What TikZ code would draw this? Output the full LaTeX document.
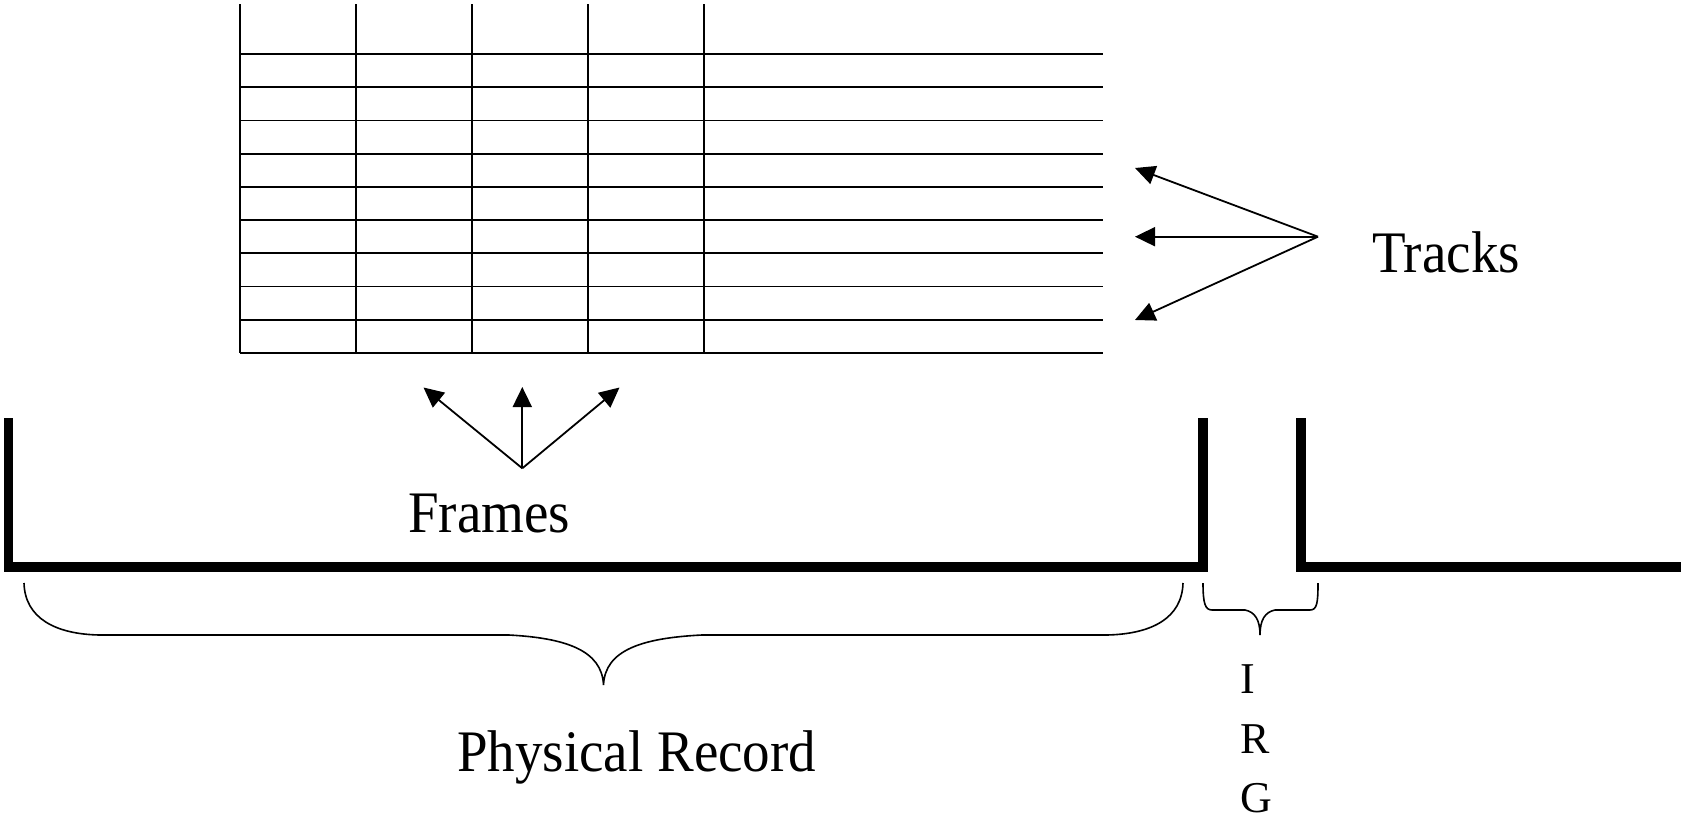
\documentclass[tikz,border=0pt]{standalone}
\usepackage{fontspec}
\setmainfont{Liberation Serif}
\usetikzlibrary{arrows.meta}
\newcommand{\talltext}[1]{\scalebox{1}[1.07]{#1}}
\begin{document}
\begin{tikzpicture}[x=1pt,y=-1pt,
  gridline/.style={line width=1.8pt},
  arr/.style={line width=1.8pt, -{Triangle[length=20pt,width=19pt]}},
  tape/.style={line width=9.5pt},
  brace/.style={line width=1.6pt},
  lbl/.style={inner sep=0pt, anchor=base west, font=\fontsize{55}{60}\selectfont},
  small/.style={inner sep=0pt, anchor=base west, font=\fontsize{44}{50}\selectfont}]
\useasboundingbox (0,0) rectangle (1681,819);
% grid of frames and tracks
\foreach \x in {240,355.7,471.7,588,704} \draw[gridline] (\x,4) -- (\x,353);
\foreach \i in {0,...,9} \draw[gridline] (240,54+33.22*\i) -- (1103,54+33.22*\i);
% Tracks arrows
\coordinate (ta) at (1318,236.7);
\coordinate (t1) at (1135,168);
\coordinate (t2) at (1135,236.7);
\coordinate (t3) at (1135,320);
\draw[arr] (ta) -- (t1);
\draw[arr] (ta) -- (t2);
\draw[arr] (ta) -- (t3);
\node[lbl] (tracks) at (1372,272) {\talltext{Tracks}};
% Frames arrows
\coordinate (fa) at (522.3,468.3);
\coordinate (f1) at (423.5,387.5);
\coordinate (f2) at (522.3,387);
\coordinate (f3) at (619.5,387.5);
\draw[arr] (fa) -- (f1);
\draw[arr] (fa) -- (f2);
\draw[arr] (fa) -- (f3);
\node[lbl] (frames) at (408,532) {\talltext{Frames}};
% tape
\draw[tape] (8.5,418) -- (8.5,567) -- (1203,567) -- (1203,418);
\draw[tape] (1301,418) -- (1301,567) -- (1681,567);
% braces
\draw[brace] (24,583) .. controls (25,618) and (55,634) .. (99,635) -- (509,635)
  .. controls (565,638) and (602,650) .. (603.5,685)
  .. controls (605,650) and (642,638) .. (702,635) -- (1107,635)
  .. controls (1152,634) and (1182,618) .. (1183,583);
\draw[brace] (1203,583) .. controls (1203,603) and (1205,610) .. (1212,610) -- (1245,610)
  .. controls (1255,612) and (1260,620) .. (1260,635)
  .. controls (1260,620) and (1265,612) .. (1275,610) -- (1310,610)
  .. controls (1317,610) and (1318,603) .. (1318,583);
\node[lbl] (record) at (457,771) {\talltext{Physical Record}};
\node[small] (irgI) at (1240,693) {I};
\node[small] (irgR) at (1240,753) {R};
\node[small] (irgG) at (1240,812) {G};
\end{tikzpicture}
\end{document}
